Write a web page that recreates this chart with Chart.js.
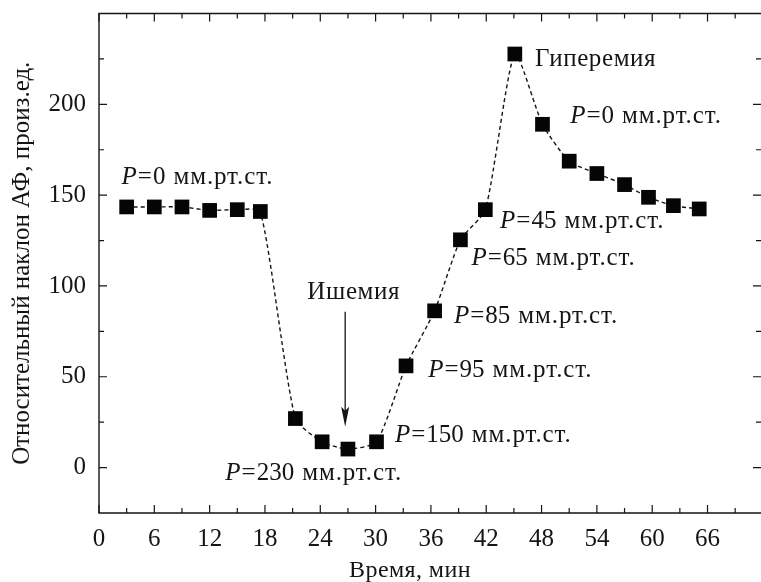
<!DOCTYPE html>
<html>
<head>
<meta charset="utf-8">
<script src="https://cdn.jsdelivr.net/npm/chart.js@4.4.1/dist/chart.umd.min.js"></script>
<style>
  html, body { margin: 0; padding: 0; background: #ffffff; }
  #wrap { width: 761px; height: 582px; }
</style>
</head>
<body>
<div id="wrap"><canvas id="c" width="761" height="582"></canvas></div>
<script>
// Measured slope of the AF signal over the cuff protocol
const timeMin = [3, 6, 9, 12, 15, 17.5, 21.3, 24.2, 27, 30.1, 33.3, 36.4, 39.2, 41.9, 45.1, 48.1, 51, 54, 57, 59.6, 62.3, 65.1];
const slope   = [143.5, 143.5, 143.5, 141.6, 142, 141, 27, 14.2, 10.2, 14.2, 56, 86.3, 125.4, 142, 227.7, 189, 168.7, 161.9, 155.8, 148.8, 144.2, 142.4];

const xTicks = [0, 6, 12, 18, 24, 30, 36, 42, 48, 54, 60, 66];
const yTicks = [0, 50, 100, 150, 200];

const xTitle = 'Время, мин';
const yTitle = 'Относительный наклон АФ, произ.ед.';

// Cuff pressure labels: [pressure, x, y] anchored in data units (left edge, baseline)
const pressureLabels = [
  ['0',   2.45, 156],
  ['230', 13.7, -6.8],
  ['150', 32.1, 14.3],
  ['95',  35.7, 50],
  ['85',  38.5, 79.5],
  ['65',  40.4, 111.6],
  ['45',  43.5, 132],
  ['0',   51.1, 189.8]
];
const phaseLabels = [
  ['Гиперемия', 47.3, 221.1],
  ['Ишемия',    22.6, 92.8]
];
const arrowPath = { x: 26.7, from: 85.8, to: 22.5 };

const SERIF = '"Liberation Serif", "DejaVu Serif", serif';
const INK = '#151515';

const framePlugin = {
  id: 'frame',
  afterDraw(chart) {
    const { ctx, chartArea: a, scales: { x, y } } = chart;
    ctx.save();
    ctx.strokeStyle = INK;
    ctx.lineWidth = 1.4;
    ctx.beginPath();
    ctx.moveTo(a.left, a.top); ctx.lineTo(a.left, a.bottom);
    ctx.moveTo(a.left - 0.7, a.bottom); ctx.lineTo(a.right, a.bottom);
    ctx.moveTo(a.left - 0.7, a.top); ctx.lineTo(a.right, a.top);
    ctx.stroke();
    // inward ticks on all four sides
    ctx.lineWidth = 1.2;
    ctx.beginPath();
    for (let v = 0; v <= x.max; v += 3) {
      const px = x.getPixelForValue(v);
      const len = v % 6 === 0 ? 8 : 5;
      ctx.moveTo(px, a.bottom); ctx.lineTo(px, a.bottom - len);
      ctx.moveTo(px, a.top); ctx.lineTo(px, a.top + len);
    }
    for (let v = 0; v <= y.max; v += 25) {
      const py = y.getPixelForValue(v);
      const len = v % 50 === 0 ? 8 : 5;
      ctx.moveTo(a.left, py); ctx.lineTo(a.left + len, py);
      ctx.moveTo(a.right, py); ctx.lineTo(a.right - len, py);
    }
    ctx.stroke();

    // axis titles
    ctx.fillStyle = INK;
    ctx.textAlign = 'center';
    ctx.textBaseline = 'alphabetic';
    ctx.font = '24px ' + SERIF;
    ctx.letterSpacing = '0.4px';
    ctx.fillText(xTitle, 410, 577);
    ctx.font = '25px ' + SERIF;
    ctx.letterSpacing = '0px';
    ctx.save();
    ctx.translate(29, (a.top + a.bottom) / 2);
    ctx.rotate(-Math.PI / 2);
    ctx.fillText(yTitle, 0, 0);
    ctx.restore();

    // pressure labels
    ctx.textAlign = 'left';
    const upright = '25px ' + SERIF;
    const italic = 'italic 25px ' + SERIF;
    pressureLabels.forEach(([p, dx, dy]) => {
      let cx = x.getPixelForValue(dx);
      const by = y.getPixelForValue(dy);
      ctx.letterSpacing = '0px';
      ctx.font = italic;
      ctx.fillText('P', cx, by);
      cx += ctx.measureText('P').width + 1;
      ctx.font = upright;
      ctx.fillText('=', cx, by);
      cx += ctx.measureText('=').width + 1;
      ctx.fillText(p, cx, by);
      cx += ctx.measureText(p).width + 8;
      ctx.letterSpacing = '0.9px';
      ctx.fillText('мм.рт.ст.', cx, by);
    });
    phaseLabels.forEach(([t, dx, dy]) => {
      ctx.font = upright;
      ctx.letterSpacing = '0.6px';
      ctx.fillText(t, x.getPixelForValue(dx), y.getPixelForValue(dy));
    });
    ctx.letterSpacing = '0px';

    // arrow toward the ischemia minimum
    const ax = x.getPixelForValue(arrowPath.x);
    const ay0 = y.getPixelForValue(arrowPath.from);
    const ay1 = y.getPixelForValue(arrowPath.to);
    ctx.lineWidth = 1.3;
    ctx.beginPath();
    ctx.moveTo(ax, ay0); ctx.lineTo(ax, ay1 - 12);
    ctx.stroke();
    ctx.beginPath();
    ctx.moveTo(ax, ay1);
    ctx.lineTo(ax - 4, ay1 - 20);
    ctx.lineTo(ax, ay1 - 16);
    ctx.lineTo(ax + 4, ay1 - 20);
    ctx.closePath();
    ctx.fill();
    ctx.restore();
  }
};

function noScalePadding(s) {
  s.paddingLeft = 0; s.paddingRight = 0; s.paddingTop = 0; s.paddingBottom = 0;
}

new Chart(document.getElementById('c'), {
  type: 'scatter',
  data: {
    datasets: [{
      data: timeMin.map((t, i) => ({ x: t, y: slope[i] })),
      showLine: true,
      borderColor: INK,
      borderWidth: 1.4,
      borderDash: [4, 3],
      tension: 0.2,
      pointStyle: 'rect',
      pointRadius: 10.4,
      pointBackgroundColor: '#050505',
      pointBorderWidth: 0,
      clip: false
    }]
  },
  options: {
    responsive: false,
    animation: false,
    events: [],
    layout: { autoPadding: false, padding: { top: 13.5, right: 0, left: 0, bottom: 0 } },
    plugins: { legend: { display: false }, tooltip: { enabled: false } },
    scales: {
      x: {
        type: 'linear',
        min: 0,
        max: 71.8,
        afterFit(s) { s.height = 69; noScalePadding(s); },
        afterBuildTicks(s) { s.ticks = xTicks.map(v => ({ value: v })); },
        grid: { display: false, drawTicks: false },
        border: { display: false },
        ticks: {
          padding: 11,
          maxRotation: 0,
          autoSkip: false,
          color: INK,
          font: { family: SERIF, size: 25 }
        }
      },
      y: {
        type: 'linear',
        min: -25,
        max: 250,
        afterFit(s) { s.width = 99; noScalePadding(s); },
        afterBuildTicks(s) { s.ticks = yTicks.map(v => ({ value: v })); },
        grid: { display: false, drawTicks: false },
        border: { display: false },
        ticks: {
          padding: 13,
          autoSkip: false,
          color: INK,
          font: { family: SERIF, size: 25 }
        }
      }
    }
  },
  plugins: [framePlugin]
});
</script>
</body>
</html>
